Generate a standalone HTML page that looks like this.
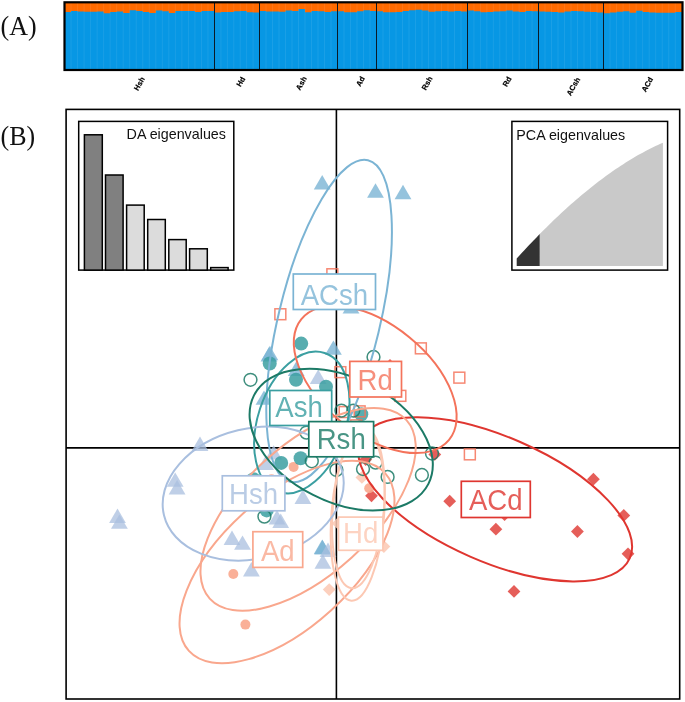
<!DOCTYPE html>
<html><head><meta charset="utf-8"><title>Figure</title>
<style>html,body{margin:0;padding:0;background:#fff}svg{display:block;font-family:"Liberation Sans",sans-serif}</style>
</head><body>
<svg width="685" height="702" viewBox="0 0 685 702">
<rect width="685" height="702" fill="#fff"/>
<rect x="64.5" y="2.3" width="618.0" height="67.7" fill="#0797e4"/>
<polygon fill="#ff6a00" points="64.50,2.30 64.50,11.90 71.02,11.90 71.02,10.90 77.54,10.90 77.54,11.60 84.07,11.60 84.07,11.70 90.59,11.70 90.59,11.70 97.11,11.70 97.11,11.40 103.63,11.40 103.63,13.30 110.15,13.30 110.15,11.90 116.67,11.90 116.67,11.60 123.20,11.60 123.20,13.00 129.72,13.00 129.72,10.20 136.24,10.20 136.24,10.90 142.76,10.90 142.76,11.90 149.28,11.90 149.28,13.00 155.80,13.00 155.80,10.50 162.33,10.50 162.33,11.20 168.85,11.20 168.85,13.10 175.37,13.10 175.37,10.90 181.89,10.90 181.89,10.90 188.41,10.90 188.41,11.00 194.93,11.00 194.93,11.90 201.46,11.90 201.46,11.00 207.98,11.00 207.98,11.00 214.50,11.00 214.50,12.60 220.93,12.60 220.93,11.90 227.36,11.90 227.36,11.90 233.79,11.90 233.79,11.20 240.21,11.20 240.21,11.00 246.64,11.00 246.64,12.30 253.07,12.30 253.07,12.60 259.50,12.60 259.50,11.00 266.00,11.00 266.00,11.60 272.50,11.60 272.50,11.60 279.00,11.60 279.00,11.70 285.50,11.70 285.50,10.50 292.00,10.50 292.00,10.90 298.50,10.90 298.50,9.10 305.00,9.10 305.00,12.30 311.50,12.30 311.50,10.90 318.00,10.90 318.00,11.20 324.50,11.20 324.50,11.90 331.00,11.90 331.00,11.20 337.50,11.20 337.50,11.20 344.00,11.20 344.00,12.30 350.50,12.30 350.50,12.30 357.00,12.30 357.00,11.20 363.50,11.20 363.50,10.20 370.00,10.20 370.00,10.90 376.50,10.90 376.50,11.20 383.00,11.20 383.00,12.30 389.50,12.30 389.50,12.30 396.00,12.30 396.00,11.90 402.50,11.90 402.50,10.90 409.00,10.90 409.00,10.20 415.50,10.20 415.50,9.80 422.00,9.80 422.00,10.50 428.50,10.50 428.50,11.70 435.00,11.70 435.00,11.20 441.50,11.20 441.50,11.00 448.00,11.00 448.00,11.40 454.50,11.40 454.50,10.90 461.00,10.90 461.00,11.60 467.50,11.60 467.50,10.50 473.95,10.50 473.95,11.20 480.41,11.20 480.41,12.30 486.86,12.30 486.86,11.90 493.32,11.90 493.32,11.60 499.77,11.60 499.77,11.20 506.23,11.20 506.23,10.50 512.68,10.50 512.68,11.60 519.14,11.60 519.14,12.10 525.59,12.10 525.59,10.90 532.05,10.90 532.05,11.20 538.50,11.20 538.50,11.40 545.00,11.40 545.00,11.70 551.50,11.70 551.50,11.90 558.00,11.90 558.00,12.60 564.50,12.60 564.50,11.60 571.00,11.60 571.00,10.90 577.50,10.90 577.50,11.20 584.00,11.20 584.00,11.70 590.50,11.70 590.50,12.10 597.00,12.10 597.00,12.60 603.50,12.60 603.50,13.20 610.02,13.20 610.02,12.60 616.55,12.60 616.55,11.80 623.08,11.80 623.08,11.30 629.60,11.30 629.60,12.70 636.12,12.70 636.12,10.70 642.65,10.70 642.65,12.00 649.17,12.00 649.17,12.40 655.70,12.40 655.70,12.80 662.22,12.80 662.22,12.80 668.75,12.80 668.75,12.70 675.27,12.70 675.27,12.00 682.50,12.00 682.50,2.30"/>
<path d="M71.02 2.3V70.0M77.54 2.3V70.0M84.07 2.3V70.0M90.59 2.3V70.0M97.11 2.3V70.0M103.63 2.3V70.0M110.15 2.3V70.0M116.67 2.3V70.0M123.20 2.3V70.0M129.72 2.3V70.0M136.24 2.3V70.0M142.76 2.3V70.0M149.28 2.3V70.0M155.80 2.3V70.0M162.33 2.3V70.0M168.85 2.3V70.0M175.37 2.3V70.0M181.89 2.3V70.0M188.41 2.3V70.0M194.93 2.3V70.0M201.46 2.3V70.0M207.98 2.3V70.0M220.93 2.3V70.0M227.36 2.3V70.0M233.79 2.3V70.0M240.21 2.3V70.0M246.64 2.3V70.0M253.07 2.3V70.0M266.00 2.3V70.0M272.50 2.3V70.0M279.00 2.3V70.0M285.50 2.3V70.0M292.00 2.3V70.0M298.50 2.3V70.0M305.00 2.3V70.0M311.50 2.3V70.0M318.00 2.3V70.0M324.50 2.3V70.0M331.00 2.3V70.0M344.00 2.3V70.0M350.50 2.3V70.0M357.00 2.3V70.0M363.50 2.3V70.0M370.00 2.3V70.0M383.00 2.3V70.0M389.50 2.3V70.0M396.00 2.3V70.0M402.50 2.3V70.0M409.00 2.3V70.0M415.50 2.3V70.0M422.00 2.3V70.0M428.50 2.3V70.0M435.00 2.3V70.0M441.50 2.3V70.0M448.00 2.3V70.0M454.50 2.3V70.0M461.00 2.3V70.0M473.95 2.3V70.0M480.41 2.3V70.0M486.86 2.3V70.0M493.32 2.3V70.0M499.77 2.3V70.0M506.23 2.3V70.0M512.68 2.3V70.0M519.14 2.3V70.0M525.59 2.3V70.0M532.05 2.3V70.0M545.00 2.3V70.0M551.50 2.3V70.0M558.00 2.3V70.0M564.50 2.3V70.0M571.00 2.3V70.0M577.50 2.3V70.0M584.00 2.3V70.0M590.50 2.3V70.0M597.00 2.3V70.0M610.02 2.3V70.0M616.55 2.3V70.0M623.08 2.3V70.0M629.60 2.3V70.0M636.12 2.3V70.0M642.65 2.3V70.0M649.17 2.3V70.0M655.70 2.3V70.0M662.22 2.3V70.0M668.75 2.3V70.0M675.27 2.3V70.0" stroke="#fff" stroke-opacity="0.09" stroke-width="0.9" fill="none"/>
<rect x="214.0" y="2.3" width="1" height="67.7" fill="#0b1a26"/>
<text transform="translate(139.3,83.7) rotate(-60)" text-anchor="middle" font-size="7.5" font-weight="bold" dy="2.6" fill="#000" stroke="#000" stroke-width="0.2">Hsh</text>
<rect x="259.0" y="2.3" width="1" height="67.7" fill="#0b1a26"/>
<text transform="translate(240.7,81.7) rotate(-60)" text-anchor="middle" font-size="7.5" font-weight="bold" dy="2.6" fill="#000" stroke="#000" stroke-width="0.2">Hd</text>
<rect x="337.0" y="2.3" width="1" height="67.7" fill="#0b1a26"/>
<text transform="translate(301.3,83.2) rotate(-60)" text-anchor="middle" font-size="7.5" font-weight="bold" dy="2.6" fill="#000" stroke="#000" stroke-width="0.2">Ash</text>
<rect x="376.0" y="2.3" width="1" height="67.7" fill="#0b1a26"/>
<text transform="translate(360.4,81.4) rotate(-60)" text-anchor="middle" font-size="7.5" font-weight="bold" dy="2.6" fill="#000" stroke="#000" stroke-width="0.2">Ad</text>
<rect x="467.0" y="2.3" width="1" height="67.7" fill="#0b1a26"/>
<text transform="translate(427.0,83.2) rotate(-60)" text-anchor="middle" font-size="7.5" font-weight="bold" dy="2.6" fill="#000" stroke="#000" stroke-width="0.2">Rsh</text>
<rect x="538.0" y="2.3" width="1" height="67.7" fill="#0b1a26"/>
<text transform="translate(507.1,81.5) rotate(-60)" text-anchor="middle" font-size="7.5" font-weight="bold" dy="2.6" fill="#000" stroke="#000" stroke-width="0.2">Rd</text>
<rect x="603.0" y="2.3" width="1" height="67.7" fill="#0b1a26"/>
<text transform="translate(573.3,86.4) rotate(-60)" text-anchor="middle" font-size="7.5" font-weight="bold" dy="2.6" fill="#000" stroke="#000" stroke-width="0.2">ACsh</text>
<text transform="translate(647.3,84.4) rotate(-60)" text-anchor="middle" font-size="7.5" font-weight="bold" dy="2.6" fill="#000" stroke="#000" stroke-width="0.2">ACd</text>
<rect x="64.5" y="2.3" width="618.0" height="67.7" fill="none" stroke="#000" stroke-width="2.2"/>
<text transform="translate(0.6,34.8) scale(1,1.07)" font-family="'Liberation Serif',serif" font-size="26" fill="#111">(A)</text>
<text transform="translate(0.6,144.9) scale(1,1.04)" font-family="'Liberation Serif',serif" font-size="26" fill="#111">(B)</text>
<line x1="336.4" y1="109.4" x2="336.4" y2="699.0" stroke="#000" stroke-width="1.6"/>
<line x1="66.1" y1="447.9" x2="679.7" y2="447.9" stroke="#000" stroke-width="1.6"/>
<path d="M390.0 359.0L396.4 365.4L390.0 371.8L383.6 365.4Z" fill="#df3630" fill-opacity="0.8"/>
<path d="M371.5 489.4L377.9 495.8L371.5 502.2L365.1 495.8Z" fill="#df3630" fill-opacity="0.8"/>
<path d="M449.7 494.8L456.1 501.2L449.7 507.6L443.3 501.2Z" fill="#df3630" fill-opacity="0.8"/>
<path d="M434.8 448.0L441.2 454.4L434.8 460.8L428.4 454.4Z" fill="#df3630" fill-opacity="0.8"/>
<path d="M365.7 453.2L372.1 459.6L365.7 466.0L359.3 459.6Z" fill="#df3630" fill-opacity="0.8"/>
<path d="M495.9 522.8L502.3 529.2L495.9 535.6L489.5 529.2Z" fill="#df3630" fill-opacity="0.8"/>
<path d="M504.6 508.3L511.0 514.7L504.6 521.1L498.2 514.7Z" fill="#df3630" fill-opacity="0.8"/>
<path d="M577.4 525.1L583.8 531.5L577.4 537.9L571.0 531.5Z" fill="#df3630" fill-opacity="0.8"/>
<path d="M593.4 472.8L599.8 479.2L593.4 485.6L587.0 479.2Z" fill="#df3630" fill-opacity="0.8"/>
<path d="M623.8 509.0L630.2 515.4L623.8 521.8L617.4 515.4Z" fill="#df3630" fill-opacity="0.8"/>
<path d="M628.0 547.4L634.4 553.8L628.0 560.2L621.6 553.8Z" fill="#df3630" fill-opacity="0.8"/>
<path d="M514.0 585.0L520.4 591.4L514.0 597.8L507.6 591.4Z" fill="#df3630" fill-opacity="0.8"/>
<path d="M322.2 175.1L330.6 189.5H313.8Z" fill="#7bb4d4" fill-opacity="0.8"/>
<path d="M375.5 183.3L383.9 197.7H367.1Z" fill="#7bb4d4" fill-opacity="0.8"/>
<path d="M403.0 184.8L411.4 199.2H394.6Z" fill="#7bb4d4" fill-opacity="0.8"/>
<path d="M351.0 299.2L359.4 313.6H342.6Z" fill="#7bb4d4" fill-opacity="0.8"/>
<path d="M333.4 340.4L341.8 354.8H325.0Z" fill="#7bb4d4" fill-opacity="0.8"/>
<path d="M269.9 345.8L278.3 360.2H261.5Z" fill="#7bb4d4" fill-opacity="0.8"/>
<path d="M269.0 347.0L277.4 361.4H260.6Z" fill="#7bb4d4" fill-opacity="0.8"/>
<path d="M296.2 361.6L304.6 376.0H287.8Z" fill="#7bb4d4" fill-opacity="0.8"/>
<path d="M264.0 390.4L272.4 404.8H255.6Z" fill="#7bb4d4" fill-opacity="0.8"/>
<path d="M322.2 539.6L330.6 554.0H313.8Z" fill="#7bb4d4" fill-opacity="0.8"/>
<path d="M322.6 540.0L331.0 554.4H314.2Z" fill="#7bb4d4" fill-opacity="0.8"/>
<path d="M361.9 471.0L368.3 477.4L361.9 483.8L355.5 477.4Z" fill="#fcc8b3" fill-opacity="0.85"/>
<path d="M383.9 540.2L390.3 546.6L383.9 553.0L377.5 546.6Z" fill="#fcc8b3" fill-opacity="0.85"/>
<path d="M338.2 517.0L344.6 523.4L338.2 529.8L331.8 523.4Z" fill="#fcc8b3" fill-opacity="0.85"/>
<path d="M329.2 583.2L335.6 589.6L329.2 596.0L322.8 589.6Z" fill="#fcc8b3" fill-opacity="0.85"/>
<path d="M200.0 436.6L208.4 451.0H191.6Z" fill="#a9bfdf" fill-opacity="0.75"/>
<path d="M175.2 472.4L183.6 486.8H166.8Z" fill="#a9bfdf" fill-opacity="0.75"/>
<path d="M177.1 480.1L185.5 494.5H168.7Z" fill="#a9bfdf" fill-opacity="0.75"/>
<path d="M117.5 508.6L125.9 523.0H109.1Z" fill="#a9bfdf" fill-opacity="0.75"/>
<path d="M119.4 514.4L127.8 528.8H111.0Z" fill="#a9bfdf" fill-opacity="0.75"/>
<path d="M232.0 530.5L240.4 544.9H223.6Z" fill="#a9bfdf" fill-opacity="0.75"/>
<path d="M242.5 535.4L250.9 549.8H234.1Z" fill="#a9bfdf" fill-opacity="0.75"/>
<path d="M251.4 562.1L259.8 576.5H243.0Z" fill="#a9bfdf" fill-opacity="0.75"/>
<path d="M318.2 369.6L326.6 384.0H309.8Z" fill="#a9bfdf" fill-opacity="0.75"/>
<path d="M273.7 445.2L282.1 459.6H265.3Z" fill="#a9bfdf" fill-opacity="0.75"/>
<path d="M265.6 455.7L274.0 470.1H257.2Z" fill="#a9bfdf" fill-opacity="0.75"/>
<path d="M302.9 489.6L311.3 504.0H294.5Z" fill="#a9bfdf" fill-opacity="0.75"/>
<path d="M277.0 510.0L285.4 524.4H268.6Z" fill="#a9bfdf" fill-opacity="0.75"/>
<path d="M328.0 542.6L336.4 557.0H319.6Z" fill="#a9bfdf" fill-opacity="0.75"/>
<path d="M322.9 554.3L331.3 568.7H314.5Z" fill="#a9bfdf" fill-opacity="0.75"/>
<path d="M280.7 513.6L289.1 528.0H272.3Z" fill="#a9bfdf" fill-opacity="0.75"/>
<circle cx="271.5" cy="479.2" r="5" fill="#f9a78d" fill-opacity="0.9"/>
<circle cx="293.6" cy="466.9" r="5" fill="#f9a78d" fill-opacity="0.9"/>
<circle cx="369.2" cy="488.3" r="5" fill="#f9a78d" fill-opacity="0.9"/>
<circle cx="233.3" cy="574.0" r="5" fill="#f9a78d" fill-opacity="0.9"/>
<circle cx="245.4" cy="624.6" r="5" fill="#f9a78d" fill-opacity="0.9"/>
<circle cx="301.2" cy="343.6" r="7" fill="#3b9fa1" fill-opacity="0.85"/>
<circle cx="269.7" cy="363.5" r="7" fill="#3b9fa1" fill-opacity="0.85"/>
<circle cx="296.0" cy="379.8" r="7" fill="#3b9fa1" fill-opacity="0.85"/>
<circle cx="326.0" cy="386.8" r="7" fill="#3b9fa1" fill-opacity="0.85"/>
<circle cx="281.2" cy="462.9" r="7" fill="#3b9fa1" fill-opacity="0.85"/>
<circle cx="300.6" cy="458.3" r="7" fill="#3b9fa1" fill-opacity="0.85"/>
<circle cx="266.7" cy="510.4" r="7" fill="#3b9fa1" fill-opacity="0.85"/>
<circle cx="253.5" cy="479.3" r="7" fill="#3b9fa1" fill-opacity="0.85"/>
<circle cx="361.3" cy="414.2" r="7" fill="#3b9fa1" fill-opacity="0.85"/>
<rect x="326.9" y="268.8" width="10.9" height="10.9" fill="none" stroke="#f4735b" stroke-width="1.5" stroke-opacity="0.85"/>
<rect x="274.9" y="308.8" width="10.9" height="10.9" fill="none" stroke="#f4735b" stroke-width="1.5" stroke-opacity="0.85"/>
<rect x="334.9" y="366.7" width="10.9" height="10.9" fill="none" stroke="#f4735b" stroke-width="1.5" stroke-opacity="0.85"/>
<rect x="415.4" y="342.9" width="10.9" height="10.9" fill="none" stroke="#f4735b" stroke-width="1.5" stroke-opacity="0.85"/>
<rect x="453.9" y="372.2" width="10.9" height="10.9" fill="none" stroke="#f4735b" stroke-width="1.5" stroke-opacity="0.85"/>
<rect x="394.9" y="390.4" width="10.9" height="10.9" fill="none" stroke="#f4735b" stroke-width="1.5" stroke-opacity="0.85"/>
<rect x="339.2" y="406.6" width="10.9" height="10.9" fill="none" stroke="#f4735b" stroke-width="1.5" stroke-opacity="0.85"/>
<rect x="354.2" y="405.9" width="10.9" height="10.9" fill="none" stroke="#f4735b" stroke-width="1.5" stroke-opacity="0.85"/>
<rect x="350.8" y="419.9" width="10.9" height="10.9" fill="none" stroke="#f4735b" stroke-width="1.5" stroke-opacity="0.85"/>
<rect x="464.4" y="448.9" width="10.9" height="10.9" fill="none" stroke="#f4735b" stroke-width="1.5" stroke-opacity="0.85"/>
<circle cx="373.5" cy="357.0" r="6.4" fill="none" stroke="#1c7a66" stroke-width="1.5" stroke-opacity="0.85"/>
<circle cx="250.5" cy="379.8" r="6.4" fill="none" stroke="#1c7a66" stroke-width="1.5" stroke-opacity="0.85"/>
<circle cx="341.4" cy="410.6" r="6.4" fill="none" stroke="#1c7a66" stroke-width="1.5" stroke-opacity="0.85"/>
<circle cx="353.3" cy="410.6" r="6.4" fill="none" stroke="#1c7a66" stroke-width="1.5" stroke-opacity="0.85"/>
<circle cx="306.4" cy="432.6" r="6.4" fill="none" stroke="#1c7a66" stroke-width="1.5" stroke-opacity="0.85"/>
<circle cx="311.8" cy="461.3" r="6.4" fill="none" stroke="#1c7a66" stroke-width="1.5" stroke-opacity="0.85"/>
<circle cx="336.4" cy="469.9" r="6.4" fill="none" stroke="#1c7a66" stroke-width="1.5" stroke-opacity="0.85"/>
<circle cx="363.0" cy="469.0" r="6.4" fill="none" stroke="#1c7a66" stroke-width="1.5" stroke-opacity="0.85"/>
<circle cx="375.6" cy="462.6" r="6.4" fill="none" stroke="#1c7a66" stroke-width="1.5" stroke-opacity="0.85"/>
<circle cx="387.6" cy="476.9" r="6.4" fill="none" stroke="#1c7a66" stroke-width="1.5" stroke-opacity="0.85"/>
<circle cx="421.9" cy="475.0" r="6.4" fill="none" stroke="#1c7a66" stroke-width="1.5" stroke-opacity="0.85"/>
<circle cx="432.0" cy="453.5" r="6.4" fill="none" stroke="#1c7a66" stroke-width="1.5" stroke-opacity="0.85"/>
<circle cx="264.4" cy="516.6" r="6.4" fill="none" stroke="#1c7a66" stroke-width="1.5" stroke-opacity="0.85"/>
<ellipse cx="495.2" cy="499.3" rx="146.9" ry="62.5" transform="rotate(-156.4 495.2 499.3)" fill="none" stroke="#df3630" stroke-width="2"/>
<ellipse cx="329.1" cy="321.0" rx="165.4" ry="50.7" transform="rotate(-76.4 329.1 321.0)" fill="none" stroke="#7bb4d4" stroke-width="2"/>
<ellipse cx="308.1" cy="509.4" rx="132.8" ry="65.0" transform="rotate(-42.2 308.1 509.4)" fill="none" stroke="#f9a78d" stroke-width="2"/>
<ellipse cx="287.0" cy="562.0" rx="132.4" ry="65.4" transform="rotate(-42.2 287.0 562.0)" fill="none" stroke="#f9a78d" stroke-width="2"/>
<ellipse cx="301.8" cy="422.5" rx="73.1" ry="44.0" transform="rotate(-71.8 301.8 422.5)" fill="none" stroke="#3b9fa1" stroke-width="2"/>
<ellipse cx="357.7" cy="515.4" rx="85.5" ry="26.3" transform="rotate(-85.7 357.7 515.4)" fill="none" stroke="#fcc8b3" stroke-width="2"/>
<ellipse cx="358.4" cy="508.3" rx="80.2" ry="25.5" transform="rotate(-85.1 358.4 508.3)" fill="none" stroke="#fcc8b3" stroke-width="2"/>
<ellipse cx="253.2" cy="493.6" rx="91.8" ry="65.1" transform="rotate(166.4 253.2 493.6)" fill="none" stroke="#a9bfdf" stroke-width="2"/>
<ellipse cx="375.2" cy="379.5" rx="95.4" ry="54.3" transform="rotate(-140.7 375.2 379.5)" fill="none" stroke="#f4735b" stroke-width="2"/>
<ellipse cx="341.2" cy="439.6" rx="97.8" ry="62.1" transform="rotate(-153.1 341.2 439.6)" fill="none" stroke="#1c7a66" stroke-width="2"/>
<rect x="461.3" y="481.3" width="69.0" height="36.2" fill="#fff" stroke="#df3630" stroke-width="1.7"/>
<text transform="translate(495.8,510.3) scale(1,1.055)" text-anchor="middle" font-size="27.6" fill="#df3630" fill-opacity="0.8">ACd</text>
<rect x="293.3" y="274.0" width="82.2" height="35.5" fill="#fff" stroke="#7bb4d4" stroke-width="1.7"/>
<text transform="translate(334.4,304.7) scale(1,1.055)" text-anchor="middle" font-size="27.6" fill="#7bb4d4" fill-opacity="0.8">ACsh</text>
<rect x="252.9" y="531.7" width="49.8" height="35.7" fill="#fff" stroke="#f9a78d" stroke-width="1.7"/>
<text transform="translate(277.8,560.7) scale(1,1.055)" text-anchor="middle" font-size="27.6" fill="#f9a78d" fill-opacity="0.8">Ad</text>
<rect x="269.8" y="390.5" width="61.9" height="35.0" fill="#fff" stroke="#3b9fa1" stroke-width="1.7"/>
<text transform="translate(299.1,417.2) scale(1,1.055)" text-anchor="middle" font-size="27.6" fill="#3b9fa1" fill-opacity="0.8">Ash</text>
<rect x="338.5" y="517.1" width="44.4" height="33.2" fill="#fff" stroke="#fcc8b3" stroke-width="1.7"/>
<text transform="translate(360.7,543.1) scale(1,1.055)" text-anchor="middle" font-size="27.6" fill="#fcc8b3" fill-opacity="0.8">Hd</text>
<rect x="222.3" y="475.8" width="62.6" height="35.0" fill="#fff" stroke="#a9bfdf" stroke-width="1.7"/>
<text transform="translate(253.6,504.1) scale(1,1.055)" text-anchor="middle" font-size="27.6" fill="#a9bfdf" fill-opacity="0.8">Hsh</text>
<rect x="349.8" y="361.4" width="51.7" height="35.6" fill="#fff" stroke="#f4735b" stroke-width="1.7"/>
<text transform="translate(375.1,390.0) scale(1,1.055)" text-anchor="middle" font-size="27.6" fill="#f4735b" fill-opacity="0.8">Rd</text>
<rect x="308.8" y="421.6" width="64.8" height="35.2" fill="#fff" stroke="#1c7a66" stroke-width="1.7"/>
<text transform="translate(341.2,449.4) scale(1,1.055)" text-anchor="middle" font-size="27.6" fill="#1c7a66" fill-opacity="0.8">Rsh</text>
<rect x="78.7" y="121.4" width="155.1" height="148.7" fill="#fff" stroke="#000" stroke-width="1.5"/>
<rect x="84.4" y="134.8" width="17.9" height="135.3" fill="#808080" stroke="#000" stroke-width="1.5"/>
<rect x="105.5" y="175.0" width="17.6" height="95.1" fill="#808080" stroke="#000" stroke-width="1.5"/>
<rect x="126.6" y="205.1" width="17.6" height="65.0" fill="#dcdcdc" stroke="#000" stroke-width="1.5"/>
<rect x="147.7" y="219.5" width="17.6" height="50.6" fill="#dcdcdc" stroke="#000" stroke-width="1.5"/>
<rect x="168.8" y="239.6" width="17.4" height="30.5" fill="#dcdcdc" stroke="#000" stroke-width="1.5"/>
<rect x="189.6" y="248.8" width="17.7" height="21.3" fill="#dcdcdc" stroke="#000" stroke-width="1.5"/>
<rect x="210.7" y="267.6" width="17.4" height="2.5" fill="#dcdcdc" stroke="#000" stroke-width="1.5"/>
<text x="126.6" y="138.9" font-size="14.3" fill="#111">DA eigenvalues</text>
<rect x="511.9" y="121.4" width="155.7" height="148.7" fill="#fff" stroke="#000" stroke-width="1.5"/>
<polygon fill="#c9c9c9" points="539.7,234.1 541.5,232.3 544.0,229.8 546.4,227.4 548.9,224.9 551.4,222.5 553.9,220.1 556.3,217.8 558.8,215.4 561.3,213.1 563.8,210.8 566.3,208.6 568.7,206.3 571.2,204.1 573.7,201.9 576.2,199.8 578.6,197.7 581.1,195.6 583.6,193.5 586.1,191.4 588.6,189.4 591.0,187.4 593.5,185.5 596.0,183.5 598.5,181.6 601.0,179.7 603.4,177.9 605.9,176.1 608.4,174.3 610.9,172.5 613.3,170.8 615.8,169.1 618.3,167.4 620.8,165.8 623.3,164.2 625.7,162.6 628.2,161.0 630.7,159.5 633.2,158.0 635.6,156.6 638.1,155.1 640.6,153.7 643.1,152.4 645.6,151.1 648.0,149.8 650.5,148.5 653.0,147.3 655.5,146.1 657.9,144.9 660.4,143.8 662.9,142.7 662.9,265.9 539.7,265.9"/>
<polygon fill="#333" points="516.7,258.5 519.2,255.8 521.7,253.1 524.1,250.4 526.6,247.7 529.1,245.1 531.6,242.5 534.0,239.9 536.5,237.4 539.0,234.8 539.7,234.1 539.7,265.9 516.7,265.9"/>
<text x="516.3" y="140.1" font-size="14.3" fill="#111">PCA eigenvalues</text>
<rect x="66.1" y="109.4" width="613.6" height="589.6" fill="none" stroke="#000" stroke-width="1.6"/>
</svg>
</body></html>
